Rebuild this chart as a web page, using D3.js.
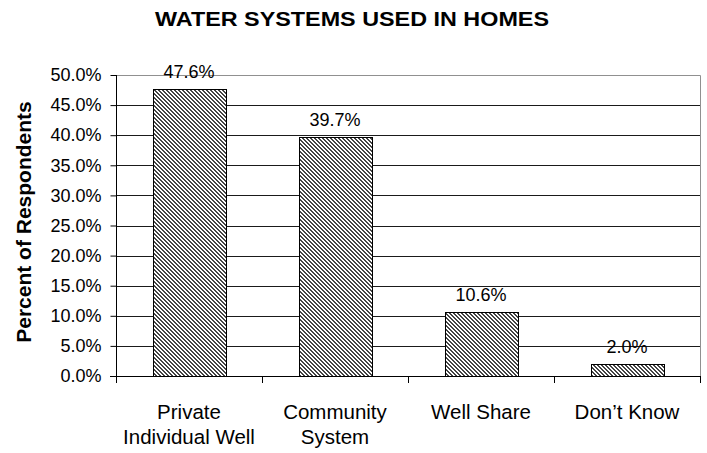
<!DOCTYPE html>
<html>
<head>
<meta charset="utf-8">
<script src="https://cdn.jsdelivr.net/npm/d3@7/dist/d3.min.js"></script>
<style>
  html, body { margin: 0; padding: 0; background: #fff; }
  svg { display: block; font-family: "Liberation Sans", Arial, sans-serif; }
</style>
</head>
<body>
<svg id="chart" width="707" height="453"></svg>
<script>
// Share of respondents by home water system
const categories = [["Private", "Individual Well"], ["Community", "System"], ["Well Share"], ["Don\u2019t Know"]];
const values = [47.6, 39.7, 10.6, 2.0];
const yTicks = [0, 5, 10, 15, 20, 25, 30, 35, 40, 45, 50];

const svg = d3.select("#chart");
const plot = { left: 116, right: 700, top: 75, bottom: 376 };

// diagonal hatch used to fill the bars
const defs = svg.append("defs");
const pat = defs.append("pattern")
  .attr("id", "hatch")
  .attr("patternUnits", "userSpaceOnUse")
  .attr("width", 4).attr("height", 4);
pat.append("rect").attr("width", 4).attr("height", 4).attr("fill", "#ffffff");
[[0,0],[1,1],[2,2],[3,3],[1,0],[2,1],[3,2],[0,3]].forEach(([px, py]) => {
  pat.append("rect").attr("x", px).attr("y", py).attr("width", 1).attr("height", 1).attr("fill", "#444444");
});

const x = d3.scaleBand()
  .domain(d3.range(categories.length))
  .range([plot.left, plot.right])
  .paddingInner(0.5).paddingOuter(0.25);
const y = d3.scaleLinear().domain([0, 50]).range([plot.bottom, plot.top]);

// gridlines
svg.append("g").selectAll("line")
  .data(yTicks.filter(t => t > 0 && t < 50))
  .join("line")
  .attr("x1", plot.left).attr("x2", plot.right)
  .attr("y1", d => Math.round(y(d)) + 0.5).attr("y2", d => Math.round(y(d)) + 0.5)
  .attr("stroke", "#1a1a1a").attr("stroke-width", 1);

// plot-area border (top and right)
svg.append("path")
  .attr("d", `M${plot.left},${Math.round(y(50)) + 0.5}H${plot.right + 0.5}V${plot.bottom}`)
  .attr("fill", "none").attr("stroke", "#909090").attr("stroke-width", 1);

// bars
svg.append("g").selectAll("rect")
  .data(values)
  .join("rect")
  .attr("x", (d, i) => Math.round(x(i)) + 0.5)
  .attr("y", d => Math.round(y(d)) + 0.5)
  .attr("width", x.bandwidth())
  .attr("height", d => Math.round(y(0)) - Math.round(y(d)))
  .attr("fill", "url(#hatch)")
  .attr("stroke", "#000").attr("stroke-width", 1);

// value labels
svg.append("g").selectAll("text")
  .data(values)
  .join("text")
  .attr("x", (d, i) => x(i) + x.bandwidth() / 2)
  .attr("y", d => y(d) - 11)
  .attr("text-anchor", "middle")
  .attr("font-size", 18)
  .attr("fill", "#000")
  .text(d => d.toFixed(1) + "%");

// y axis
const yAxis = d3.axisLeft(y)
  .tickValues(yTicks)
  .tickSize(6)
  .tickPadding(9)
  .tickFormat(d => d.toFixed(1) + "%");
const gy = svg.append("g")
  .attr("transform", `translate(${plot.left + 0.5},0)`)
  .call(yAxis);
gy.select(".domain").attr("d", `M-0,${plot.top}V${plot.bottom + 6}`).attr("stroke", "#000");
gy.selectAll(".tick line").attr("stroke", "#000");
gy.selectAll(".tick text").attr("font-size", 18).attr("fill", "#000")
  .attr("font-family", "'Liberation Sans', Arial, sans-serif");

// x axis baseline with ticks at category boundaries
const boundaries = d3.range(categories.length + 1).map(i => plot.left + i * (plot.right - plot.left) / categories.length);
svg.append("line")
  .attr("x1", plot.left - 6).attr("x2", plot.right)
  .attr("y1", plot.bottom + 0.5).attr("y2", plot.bottom + 0.5)
  .attr("stroke", "#000");
svg.append("g").selectAll("line")
  .data(boundaries)
  .join("line")
  .attr("x1", d => Math.round(d) + 0.5).attr("x2", d => Math.round(d) + 0.5)
  .attr("y1", plot.bottom).attr("y2", plot.bottom + 7)
  .attr("stroke", "#000");

// category labels
const cat = svg.append("g").selectAll("text")
  .data(categories)
  .join("text")
  .attr("x", (d, i) => x(i) + x.bandwidth() / 2)
  .attr("y", 419)
  .attr("text-anchor", "middle")
  .attr("font-size", 20.5)
  .attr("fill", "#000");
cat.selectAll("tspan")
  .data(d => d)
  .join("tspan")
  .attr("x", function () { return d3.select(this.parentNode).attr("x"); })
  .attr("dy", (d, i) => i === 0 ? 0 : 25)
  .text(d => d);

// title, set slightly wide
svg.append("text")
  .attr("x", 352).attr("y", 26)
  .attr("text-anchor", "middle")
  .attr("font-size", 19.5).attr("font-weight", "bold")
  .attr("textLength", 394).attr("lengthAdjust", "spacingAndGlyphs")
  .text("WATER SYSTEMS USED IN HOMES");

// y axis title
svg.append("text")
  .attr("transform", "translate(31,222) rotate(-90)")
  .attr("text-anchor", "middle")
  .attr("font-size", 21).attr("font-weight", "bold")
  .text("Percent of Respondents");
</script>
</body>
</html>
